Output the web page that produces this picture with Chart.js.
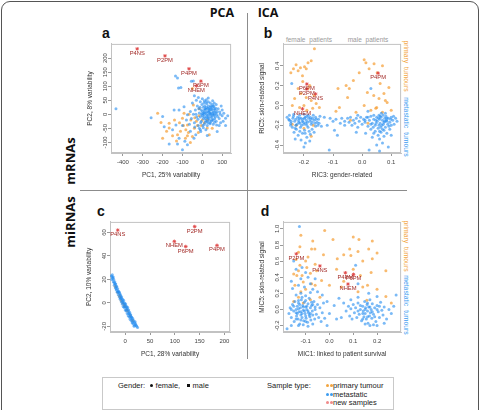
<!DOCTYPE html>
<html>
<head>
<meta charset="utf-8">
<script src="https://cdn.jsdelivr.net/npm/chart.js@4.4.1/dist/chart.umd.min.js"></script>
<style>
  html, body { margin: 0; padding: 0; background: #fff; }
  #fig { position: relative; width: 481px; height: 410px; overflow: hidden; font-family: "Liberation Sans", Arial, sans-serif; color: #222; }
  #fig canvas { position: absolute; }
  .frame { position: absolute; left: 0.5px; top: 0.5px; width: 476px; height: 440px; border: 1.5px solid #555; border-radius: 9px; }
  .vline { position: absolute; left: 247px; top: 13px; width: 1px; height: 346px; background: #8c8c8c; }
  .hline { position: absolute; left: 80px; top: 190px; width: 327px; height: 1px; background: #8c8c8c; }
  .lbl { position: absolute; white-space: nowrap; transform: translate(-50%, -50%); line-height: 1; }
  .head { font-family: "Open Sans", sans-serif; font-weight: 700; font-size: 12.5px; color: #111; }
  .letter { font-weight: 700; font-size: 14px; color: #111; }
  .row { font-family: "Open Sans", sans-serif; font-weight: 700; font-size: 13px; color: #111; transform: translate(-50%, -50%) rotate(-90deg); }
  .side { font-size: 6.8px; word-spacing: 2px; transform: translate(-50%, -50%) rotate(90deg); }
  .gp { font-size: 6.5px; color: #9a9a9a; word-spacing: 2px; }
  .legend { position: absolute; left: 102px; top: 377px; width: 290px; height: 31px; border: 1px solid #c9c9c9; font-size: 7.5px; }
  .legend span.t { position: absolute; white-space: nowrap; line-height: 1; }
  .dot { display: inline-block; width: 3px; height: 3px; border-radius: 50%; margin-right: 0.5px; vertical-align: 1px; }
</style>
</head>
<body>
<div id="fig">
  <div class="frame"></div>
  <div class="vline"></div>
  <div class="hline"></div>

  <div class="lbl head" style="left:222px; top:13px;">PCA</div>
  <div class="lbl head" style="left:268px; top:13px;">ICA</div>
  <div class="lbl row" style="left:70px; top:161px;">mRNAs</div>
  <div class="lbl row" style="left:70px; top:222px;">miRNAs</div>

  <div class="lbl letter" style="left:106px; top:33px;">a</div>
  <div class="lbl letter" style="left:268px; top:33px;">b</div>
  <div class="lbl letter" style="left:101px; top:211px;">c</div>
  <div class="lbl letter" style="left:265px; top:211px;">d</div>

  <div class="lbl gp" style="left:309px; top:40px;">female patients</div>
  <div class="lbl gp" style="left:368px; top:40px;">male patients</div>

  <div class="lbl side" style="left:406px; top:66px; color:#f2a540;">primary tumours</div>
  <div class="lbl side" style="left:406px; top:127px; color:#3c9cf0;">metastatic tumours</div>
  <div class="lbl side" style="left:406px; top:246px; color:#f2a540;">primary tumours</div>
  <div class="lbl side" style="left:406px; top:305px; color:#3c9cf0;">metastatic tumours</div>

  <canvas id="pa"></canvas>
  <canvas id="pb"></canvas>
  <canvas id="pc"></canvas>
  <canvas id="pd"></canvas>

  <div class="legend">
    <span class="t" style="left:15px; top:4px;">Gender:</span>
    <span class="t" style="left:47px; top:4px;"><span class="dot" style="background:#111"></span> female,</span>
    <span class="t" style="left:84px; top:4px;"><span class="dot" style="background:#111;border-radius:0"></span> male</span>
    <span class="t" style="left:164px; top:4px;">Sample type:</span>
    <span class="t" style="left:223px; top:4px;"><span class="dot" style="background:#f2a540"></span><span class="dot" style="background:#f2a540"></span>primary tumour</span>
    <span class="t" style="left:223px; top:12.5px;"><span class="dot" style="background:#3c9cf0"></span><span class="dot" style="background:#3c9cf0"></span>metastatic</span>
    <span class="t" style="left:223px; top:21px;"><span class="dot" style="background:#f08a8a"></span><span class="dot" style="background:#f08a8a"></span>new samples</span>
  </div>
</div>

<script>
// ---- panel a: PCA, mRNAs ----
const aXTicks = [-400, -300, -200, -100, 0, 100];
const aYTicks = [-100, -50, 0, 50, 100, 150, 200];
const aBlue = [
  [-435,20],[-258,-12],[-200,-8],[-135,136],[-125,129],[-120,94],[-108,95],[-55,118],[-40,66],[-45,119],
  [-167,-106],[-125,-106],[-100,-126],[-75,-108],[-117,-85],[-150,-55],[-133,-38],[-192,-44],[-117,15],[-142,15],
  [-92,27],[-75,-2],[-33,-73],[-8,-61],[25,-75],[75,-61],[117,-40],[117,-14],[108,4],[100,15],
  [-42,-85],[-88,-96],[-60,-60],[-100,-40],[-80,-20],[-60,10],[-50,40],[-30,50],[-20,60],[-10,45],
  [0,55],[10,48],[20,52],[30,45],[40,40],[-25,30],[-35,15],[-45,0],[-55,-15],[-40,-30],
  [-20,-40],[-5,-25],[10,-35],[25,-40],[40,-30],[55,-35],[70,-25],[85,-15],[90,0],[80,20],
  [70,35],[55,30],[60,20],[50,15],[45,5],[35,0],[25,10],[15,20],[5,25],[-5,15],
  [-15,5],[-10,-10],[0,-5],[10,0],[20,-10],[30,-15],[40,-10],[50,-5],[60,0],[70,5],
  [65,-10],[55,-20],[45,-25],[35,-20],[25,-25],[15,-15],[5,-15],[-5,0],[0,10],[10,15],
  [20,25],[30,30],[40,25],[50,35],[60,40],[35,12],[45,18],[55,8],[65,15],[75,10],
  [20,5],[28,-5],[38,5],[48,-12],[58,-3],[12,30],[22,38],[32,20],[42,30],[8,5],
  [-28,-10],[-18,20],[95,30],[105,-25],[85,-40],[-65,-35],[-10,-55],[5,-48],[18,-55],[128,-5],
  [2,2],[12,8],[22,-2],[32,8],[42,-2],[52,2],[62,8],[72,-2],[18,18],[28,22],
  [38,16],[48,24],[58,28],[68,22],[8,-8],[18,-22],[28,-30],[38,-34],[48,-20],[62,-16],
  [-12,25],[-2,35],[8,40],[18,44],[28,-12],[78,-8],[88,8],[-8,-30],[3,-40],[15,-28],
  [52,48],[62,-28],[72,-38],[92,-30],[100,-5],[-22,-18],[-32,0],[-38,-45],[-15,-50],[30,58]
];
const aOrange = [
  [-225,4],[-208,-29],[-167,-32],[-167,-49],[-200,-85],[-150,-76],[-125,-73],[-100,-14],[-95,-40],[-83,-55],
  [-75,-76],[-75,-38],[-58,-20],[-38,-12],[-17,-5],[-25,-40],[-5,-40],[25,-49],[-50,-79],[-67,0],
  [-92,4],[-45,33],[-50,92],[25,-20],[35,-73],[-140,-20],[-110,-60],[-60,-100],[-130,-95],[-180,-60],
  [-15,20],[0,-20],[-30,-25],[10,-30],[-85,-85],[-40,-50],[50,-50],[-115,-30],[-70,-65],[-20,-65]
];
const aNew = [[-328,233],[-188,208],[-67,162],[-7,118],[-30,101]];
const aNames = ['P4NS','P2PM','P4PM','P6PM','NHEM'];

// ---- panel b: ICA, mRNAs ----
const bXTicks = [-0.2, -0.1, 0.0, 0.1];
const bYTicks = [-0.4, -0.2, 0.0, 0.2, 0.4];
const bBlue = [
  [-0.242,0.22],[-0.258,-0.12],[-0.25,-0.15],[-0.245,-0.18],[-0.238,-0.13],[-0.232,-0.16],[-0.228,-0.2],[-0.222,-0.12],[-0.218,-0.15],[-0.214,-0.18],
  [-0.21,-0.13],[-0.206,-0.16],[-0.2,-0.19],[-0.196,-0.12],[-0.192,-0.15],[-0.188,-0.17],[-0.184,-0.13],[-0.18,-0.16],[-0.175,-0.19],[-0.17,-0.13],
  [-0.165,-0.15],[-0.16,-0.12],[-0.155,-0.17],[-0.15,-0.14],[-0.145,-0.11],[-0.24,-0.22],[-0.226,-0.24],[-0.212,-0.22],[-0.198,-0.25],[-0.186,-0.22],
  [-0.172,-0.24],[-0.16,-0.21],[-0.234,-0.27],[-0.22,-0.3],[-0.205,-0.28],[-0.19,-0.32],[-0.178,-0.29],[-0.165,-0.27],[-0.21,-0.35],[-0.195,-0.38],
  [-0.23,-0.34],[-0.18,-0.36],[-0.25,-0.1],[-0.235,-0.09],[-0.215,-0.1],[-0.2,-0.09],[-0.185,-0.1],[-0.168,-0.1],[-0.148,-0.18],[-0.14,-0.21],
  [-0.228,-0.14],[-0.218,-0.17],[-0.204,-0.14],[-0.194,-0.18],[-0.176,-0.14],[-0.162,-0.18],[-0.208,-0.2],[-0.19,-0.2],[-0.182,-0.26],[-0.2,-0.42],
  [-0.252,-0.14],[-0.244,-0.16],[-0.236,-0.11],[-0.224,-0.19],[-0.216,-0.13],[-0.202,-0.17],[-0.198,-0.13],[-0.19,-0.11],[-0.178,-0.12],[-0.172,-0.17],
  [-0.158,-0.14],[-0.152,-0.2],[-0.246,-0.2],[-0.23,-0.23],[-0.214,-0.26],[-0.196,-0.28],
  [-0.13,-0.12],[-0.12,-0.2],[-0.11,-0.13],[-0.1,-0.16],[-0.095,-0.25],[-0.09,-0.14],[-0.085,-0.3],[-0.113,-0.45],[-0.07,-0.13],[-0.06,-0.2],
  [-0.05,-0.13],[-0.045,-0.17],[-0.04,-0.12],[-0.035,-0.2],[-0.03,-0.15],[-0.025,-0.18],[-0.02,-0.13],[-0.015,-0.22],[-0.01,-0.16],[-0.005,-0.12],
  [0,-0.19],[0.005,-0.14],[0.01,-0.17],[0.015,-0.12],[0.02,-0.21],[0.025,-0.15],[0.03,-0.11],[0.035,-0.18],[0.04,-0.14],[0.045,-0.2],
  [0.05,-0.12],[0.052,-0.16],[0.055,-0.23],[0.058,-0.1],[0.06,-0.14],[0.062,-0.18],[0.065,-0.12],[0.068,-0.2],[0.07,-0.15],[0.072,-0.1],
  [0.075,-0.17],[0.078,-0.13],[0.08,-0.22],[0.082,-0.11],[0.085,-0.16],[0.088,-0.19],[0.09,-0.13],[0.095,-0.17],[0.1,-0.12],[0.105,-0.15],
  [0.11,-0.19],[0.115,-0.13],[0.045,-0.26],[0.055,-0.3],[0.06,-0.34],[0.065,-0.27],[0.07,-0.38],[0.05,-0.4],[0.075,-0.31],[0.085,-0.28],
  [0.024,-0.45],[0.06,-0.46],[0.09,-0.42],[0.1,-0.3],[0.035,-0.32],[0.04,-0.1],[0.066,-0.08],[0.08,-0.08],[0.03,-0.24],[0.095,-0.24],
  [0.03,0.17],[0.02,-0.06],[0.012,-0.28],[-0.02,-0.27],[0.058,-0.2],[0.07,-0.24],[0.078,-0.16],[0.062,-0.11],[0.047,-0.15],[0.085,-0.13],
  [0.01,-0.15],[0.02,-0.12],[0.03,-0.19],[0.038,-0.22],[0.048,-0.18],[0.056,-0.13],[0.064,-0.22],[0.073,-0.19],[0.083,-0.15],[0.092,-0.21],
  [0.098,-0.14],[0.108,-0.11],[0.06,-0.26],[0.075,-0.25],[0.04,-0.28],[-0.015,-0.1],[-0.06,-0.16],[-0.075,-0.18],[0.1,-0.2],[0.12,-0.16]
];
const bOrange = [
  [-0.236,0.37],[-0.227,0.41],[-0.212,0.38],[-0.198,0.39],[-0.192,0.37],[-0.22,0.35],[-0.186,0.43],[-0.175,0.45],[-0.164,0.57],[-0.204,0.24],
  [-0.22,0.17],[-0.21,0.12],[-0.192,0.08],[-0.175,0.05],[-0.232,0.07],[-0.158,0.02],[-0.147,-0.02],[-0.17,-0.03],[-0.215,-0.02],[-0.186,0.17],
  [-0.226,-0.2],[-0.2,-0.23],[-0.175,-0.31],[-0.245,0.33],[-0.205,0.3],[-0.18,0.2],[-0.165,0.1],[-0.24,0.0],[-0.2,0.0],[-0.19,-0.05],
  [-0.24,-0.19],[-0.168,-0.2],
  [0.007,0.46],[0.013,0.43],[0.024,0.37],[0.041,0.42],[-0.01,0.33],[0.052,0.33],[0.07,0.4],[-0.055,0.2],[-0.044,0.17],[-0.083,0.17],
  [-0.078,-0.02],[-0.05,0.08],[0.018,0.13],[0.04,0.1],[0.058,0.07],[0.075,0.12],[0.086,0.03],[0.007,0],[-0.021,-0.07],[0.03,-0.05],
  [0.047,-0.03],[0.07,-0.07],[0.092,0.18],[-0.03,0.25],[0.062,0.22],[0.1,-0.05],[-0.09,-0.06],[-0.04,-0.15],[0.02,-0.18],[0.05,-0.02],
  [0.08,0.05]
];
const bNew = [[-0.19,0.215],[-0.19,0.165],[-0.16,0.115],[-0.205,-0.035],[0.055,0.325]];
const bNames = ['P6PM','P2PM','P4NS','NHEM','P4PM'];

// ---- panel c: PCA, miRNAs ----
const cXTicks = [0, 50, 100, 150, 200];
const cYTicks = [-20, 0, 20, 40, 60];
const cBlue = [
  [-28,23],[-26,24],[-25,21],[-27,20],[-23,20],[-24,18],[-21,18],[-22,15],[-19,16],[-20,13],
  [-17,14],[-18,11],[-15,12],[-16,9],[-13,10],[-14,7],[-11,8],[-12,5],[-9,6],[-10,3],
  [-7,5],[-8,1],[-5,3],[-6,-1],[-3,2],[-4,-3],[-1,0],[-2,-4],[1,-1],[0,-6],
  [3,-3],[2,-7],[5,-4],[4,-9],[7,-6],[6,-11],[9,-8],[8,-12],[11,-10],[10,-14],
  [13,-12],[12,-15],[15,-13],[14,-17],[17,-15],[16,-18],[19,-17],[18,-20],[21,-18],[23,-20],
  [25,-21],[-10,7],[-4,0],[2,-4],[6,-7],[-15,10],[-20,16],[0,-2],[4,-5],[10,-10],
  [-12,9],[-8,4],[-2,-1],[8,-9],[14,-14],[-18,14],[-6,2],[12,-12],[20,-16],[-24,22],
  [-26,22],[-22,17],[-18,12],[-14,9],[-9,4],[-5,1],[-1,-3],[3,-6],[7,-9],[11,-12],
  [15,-16],[19,-19],[22,-19]
];
const cOrange = [[-20,14],[-15,9],[-10,5],[-5,0],[0,-3],[5,-7],[10,-11],[-12,6],[-2,-2],[3,-6],[15,-15],[-8,2]];
const cNew = [[-15,62],[140,65],[99,52.4],[122,48],[185,49]];
const cNames = ['P4NS','P2PM','NHEM','P6PM','P4PM'];

// ---- panel d: ICA, miRNAs ----
const dXTicks = [-0.1, 0.0, 0.1, 0.2];
const dYTicks = [-0.2, 0.0, 0.2, 0.4, 0.6, 0.8, 1.0];
const dBlue = [
  [-0.17,-0.05],[-0.165,0.02],[-0.16,-0.1],[-0.155,0.06],[-0.15,-0.02],[-0.148,-0.15],[-0.145,0.1],[-0.14,0.0],[-0.138,-0.08],[-0.135,0.04],
  [-0.132,-0.12],[-0.13,0.08],[-0.128,-0.03],[-0.125,-0.18],[-0.122,0.02],[-0.12,-0.07],[-0.118,0.12],[-0.115,-0.1],[-0.112,0.05],[-0.11,-0.01],
  [-0.108,-0.14],[-0.105,0.09],[-0.102,-0.05],[-0.1,0.03],[-0.098,-0.11],[-0.095,0.0],[-0.092,-0.16],[-0.09,0.07],[-0.088,-0.04],[-0.085,0.14],
  [-0.082,-0.09],[-0.08,0.02],[-0.078,-0.13],[-0.075,0.05],[-0.072,-0.02],[-0.07,-0.07],[-0.065,0.1],[-0.062,-0.12],[-0.06,0.0],[-0.055,-0.06],
  [-0.05,0.06],[-0.045,-0.1],[-0.04,0.02],[-0.035,-0.15],[-0.03,-0.04],[-0.025,0.08],[-0.02,-0.11],[-0.14,0.18],[-0.12,0.2],[-0.1,0.17],
  [-0.08,0.21],[-0.13,-0.2],[-0.11,-0.19],[-0.09,-0.21],[-0.07,-0.18],[-0.16,-0.2],[-0.178,-0.24],[-0.125,0.06],[-0.105,-0.02],[-0.095,0.04],
  [-0.115,-0.05],[-0.085,-0.07],[-0.135,-0.05],[-0.1,0.11],[-0.075,0.09],
  [-0.16,0.0],[-0.15,0.04],[-0.14,-0.04],[-0.13,0.01],[-0.12,-0.03],[-0.11,0.03],[-0.1,-0.08],[-0.09,-0.02],[-0.08,-0.05],[-0.12,-0.13],
  [-0.1,-0.15],[-0.14,-0.12],[-0.06,0.03],[-0.07,0.06],[-0.13,0.11],[-0.115,0.15],
  [-0.126,1.03],[-0.15,0.6],[-0.14,0.5],[-0.12,0.38],[-0.1,0.46],[-0.08,0.32],[-0.16,0.35],[-0.13,0.3],[-0.105,0.28],[-0.07,0.25],
  [-0.05,0.22],[-0.155,0.26],[-0.115,0.52],[-0.09,0.4],[-0.06,0.38],[-0.03,0.18],[-0.01,0.1],[0.0,-0.05],[0.02,0.05],[0.03,-0.12],
  [0.04,0.14],[-0.01,-0.2],
  [0.07,-0.02],[0.08,0.04],[0.085,-0.08],[0.09,0.01],[0.095,-0.12],[0.1,0.06],[0.105,-0.04],[0.11,0.02],[0.115,-0.1],[0.12,0.08],
  [0.125,-0.06],[0.13,0.0],[0.135,-0.14],[0.14,0.04],[0.142,-0.02],[0.145,-0.09],[0.148,0.1],[0.15,-0.05],[0.152,0.02],[0.155,-0.12],
  [0.158,0.06],[0.16,-0.02],[0.162,-0.17],[0.165,0.03],[0.168,-0.08],[0.17,0.12],[0.172,-0.04],[0.175,0.0],[0.178,-0.11],[0.18,0.07],
  [0.185,-0.06],[0.19,0.02],[0.195,-0.15],[0.2,0.05],[0.205,-0.03],[0.21,-0.1],[0.215,0.09],[0.22,-0.01],[0.225,-0.07],[0.23,0.03],
  [0.24,-0.12],[0.25,0.0],[0.26,-0.05],[0.17,-0.2],[0.185,-0.19],[0.15,-0.18],[0.2,-0.2],[0.23,-0.17],[0.27,0.04],[0.12,0.15],
  [0.12,0.32],[0.28,0.18],[0.11,0.55],[0.165,0.2],[0.09,0.12],[0.2,0.16],[0.06,0.08],[0.05,-0.1],
  [0.14,-0.05],[0.15,0.0],[0.16,-0.09],[0.17,0.03],[0.18,-0.03],[0.19,-0.09],[0.2,0.0],[0.16,0.08],[0.14,-0.12],[0.21,0.04],
  [0.12,-0.02],[0.13,0.05]
];
const dOrange = [
  [-0.12,0.92],[-0.07,0.85],[-0.02,0.98],[0.015,0.87],[0.1,0.9],[0.124,0.87],[0.165,0.75],[-0.124,0.78],[-0.075,0.75],[-0.061,0.75],
  [-0.09,0.65],[-0.13,0.71],[0.033,0.63],[0.085,0.75],[0.09,0.67],[0.18,0.63],[0.237,0.48],[0.175,0.46],[-0.124,0.55],[-0.054,0.48],
  [-0.033,0.36],[-0.075,0.32],[-0.11,0.34],[-0.137,0.42],[-0.15,0.44],[-0.12,0.22],[0.05,0.28],[0.12,0.22],[0.157,0.115],[0.237,0.16],
  [-0.1,0.6],[-0.14,0.62],[-0.06,0.56],[-0.095,0.52],[-0.13,0.48],[-0.08,0.45],[-0.115,0.42],[-0.145,0.3],[-0.1,0.25],[-0.06,0.3],
  [-0.04,0.15],[-0.08,0.12],[-0.11,0.08],[-0.13,0.15],[-0.15,0.1],[0.0,0.3],[0.03,0.5],[0.06,0.68],[0.14,0.6],[0.2,0.7],
  [0.1,0.5],[0.13,0.42],[0.16,0.3],[0.2,0.25],[0.26,0.08],[0.14,0.28],[0.06,0.35],[-0.025,0.68],[0.18,0.85],[0.12,0.72]
];
const dNew = [[-0.139,0.69],[-0.04,0.54],[0.067,0.455],[0.101,0.435],[0.078,0.315]];
const dNames = ['P2PM','P4NS','P4PM','P6PM','NHEM'];

const BLUE = 'rgba(35,140,240,0.6)';
const ORANGE = 'rgba(245,160,55,0.72)';
const FONT = '"Liberation Sans", Arial, sans-serif';

const frameBox = {
  id: 'frameBox',
  beforeDatasetsDraw(chart) {
    const a = chart.chartArea, ctx = chart.ctx;
    ctx.save();
    ctx.strokeStyle = '#c2c2c2';
    ctx.lineWidth = 1;
    ctx.strokeRect(a.left + 0.5, a.top + 0.5, a.right - a.left - 1, a.bottom - a.top - 1);
    ctx.restore();
  }
};

const sampleLabels = {
  id: 'sampleLabels',
  afterDatasetsDraw(chart) {
    const ds = chart.data.datasets[0];
    const meta = chart.getDatasetMeta(0);
    const ctx = chart.ctx;
    ctx.save();
    ctx.font = '5.8px ' + FONT;
    ctx.fillStyle = '#a22b28';
    ctx.textAlign = 'center';
    ctx.textBaseline = 'top';
    meta.data.forEach((pt, i) => ctx.fillText(ds.names[i], pt.x, pt.y + 1.5));
    ctx.restore();
  }
};

const toXY = arr => arr.map(p => ({ x: p[0], y: p[1] }));

function makePanel(id, box, xr, yr, xt, yt, digits, xTitle, yTitle, blue, orange, news, names, yPad) {
  const L = 32, T = 4, R = 4, B = 30;
  const cv = document.getElementById(id);
  cv.width = box[2] - box[0] + L + R;
  cv.height = box[3] - box[1] + T + B;
  cv.style.left = (box[0] - L) + 'px';
  cv.style.top = (box[1] - T) + 'px';
  const fmt = v => digits ? Number(v).toFixed(digits) : String(v);

  new Chart(cv, {
    type: 'scatter',
    data: {
      datasets: [
        { label: 'new samples', data: toXY(news), names: names, pointStyle: 'star',
          pointRadius: 1.8, borderColor: '#e04848', borderWidth: 0.9, backgroundColor: '#e04848' },
        { label: 'metastatic', data: toXY(blue), pointRadius: 1.5, borderWidth: 0, backgroundColor: BLUE },
        { label: 'primary tumour', data: toXY(orange), pointRadius: 1.5, borderWidth: 0, backgroundColor: ORANGE }
      ]
    },
    options: {
      responsive: false,
      animation: false,
      events: [],
      layout: { padding: { left: 0, top: T, right: R, bottom: 0 } },
      plugins: { legend: { display: false }, tooltip: { enabled: false } },
      scales: {
        x: {
          type: 'linear', min: xr[0], max: xr[1],
          afterBuildTicks: s => { s.ticks = xt.map(v => ({ value: v })); },
          afterFit: s => { s.height = B; s.paddingLeft = 0; s.paddingRight = 0; },
          ticks: { autoSkip: false, maxRotation: 0, padding: 3, color: '#444', font: { size: 6, family: FONT }, callback: fmt },
          grid: { drawOnChartArea: false, drawTicks: true, tickLength: 3, color: '#999' },
          border: { color: '#c2c2c2' },
          title: { display: true, text: xTitle, color: '#333', font: { size: 6.5, family: FONT }, padding: { top: 0, bottom: 3.5 } }
        },
        y: {
          type: 'linear', min: yr[0], max: yr[1],
          afterBuildTicks: s => { s.ticks = yt.map(v => ({ value: v })); },
          afterFit: s => { s.width = L; s.paddingTop = 0; s.paddingBottom = 0; },
          ticks: { autoSkip: false, minRotation: 90, maxRotation: 90, crossAlign: 'center', padding: yPad,
                   color: '#444', font: { size: 6, family: FONT }, callback: fmt },
          grid: { drawOnChartArea: false, drawTicks: true, tickLength: 3, color: '#999' },
          border: { color: '#c2c2c2' },
          title: { display: true, text: yTitle, color: '#333', font: { size: 6.5, family: FONT }, padding: { top: 7.5, bottom: 0 } }
        }
      }
    },
    plugins: [frameBox, sampleLabels]
  });
}

makePanel('pa', [111, 43, 232, 153], [-460, 145], [-137.7, 250.6], aXTicks, aYTicks, 0,
  'PC1, 25% variability', 'PC2, 8% variability', aBlue, aOrange, aNew, aNames, -3);
makePanel('pb', [283, 43, 402, 153], [-0.272, 0.134], [-0.48, 0.62], bXTicks, bYTicks, 1,
  'RIC3: gender-related', 'RIC5: skin-related signal', bBlue, bOrange, bNew, bNames, -2.2);
makePanel('pc', [110, 221, 231, 332], [-30.6, 211.4], [-24.8, 69], cXTicks, cYTicks, 0,
  'PC1, 28% variability', 'PC2, 10% variability', cBlue, cOrange, cNew, cNames, -1.3);
makePanel('pd', [283, 221, 402, 332], [-0.195, 0.301], [-0.28, 1.087], dXTicks, dYTicks, 1,
  'MIC1: linked to patient survival', 'MIC5: skin-related signal', dBlue, dOrange, dNew, dNames, -2.2);
</script>
</body>
</html>
